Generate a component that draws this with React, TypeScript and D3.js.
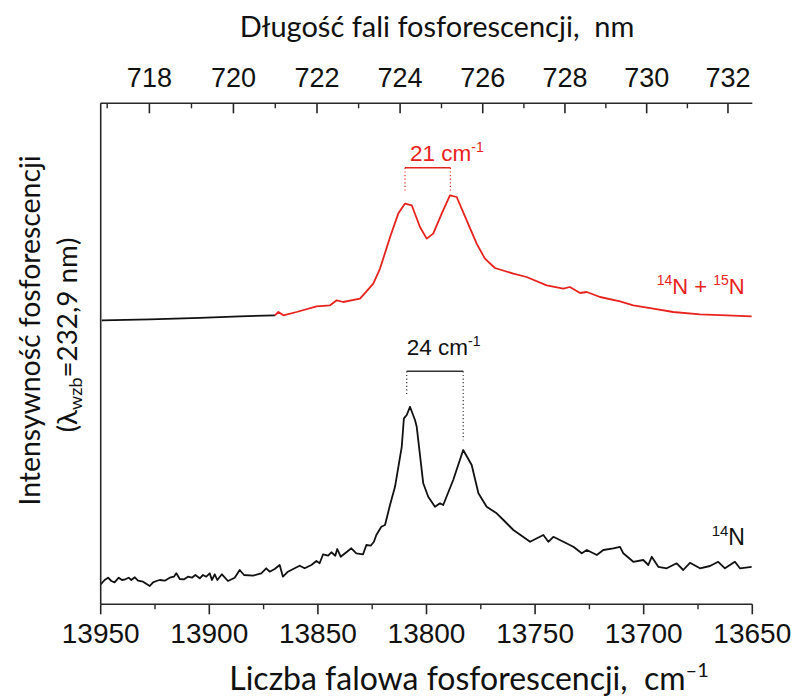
import React from "react";
import * as d3 from "d3";

// ---------- data ----------
const bottomTicks = [13950, 13900, 13850, 13800, 13750, 13700, 13650];
const bottomMinor = [13925, 13875, 13825, 13775, 13725, 13675];
const topTicks = [718, 720, 722, 724, 726, 728, 730, 732];
const topMinor = [717, 719, 721, 723, 725, 727, 729, 731];

// 14N spectrum (lower, black)
const wnN14 = [13950.0, 13948.2, 13946.6, 13945.1, 13943.6, 13941.7, 13940.2, 13938.7, 13937.1, 13935.9, 13934.3, 13932.8, 13930.5, 13927.4, 13925.9, 13924.4, 13922.8, 13920.5, 13918.2, 13916.3, 13915.2, 13913.6, 13911.6, 13909.8, 13908.0, 13906.4, 13904.4, 13902.9, 13901.4, 13899.8, 13898.8, 13897.5, 13896.3, 13894.2, 13891.4, 13888.3, 13886.0, 13884.0, 13879.9, 13876.1, 13873.8, 13872.2, 13869.9, 13867.6, 13866.1, 13863.8, 13860.7, 13858.4, 13856.1, 13853.0, 13850.7, 13849.2, 13847.6, 13845.3, 13843.8, 13842.0, 13841.1, 13839.5, 13836.9, 13834.6, 13832.3, 13829.2, 13827.7, 13825.7, 13824.2, 13823.1, 13820.8, 13819.1, 13816.8, 13814.5, 13811.4, 13810.4, 13809.1, 13807.6, 13805.3, 13804.5, 13801.5, 13799.2, 13796.1, 13793.8, 13792.3, 13787.7, 13783.1, 13779.2, 13776.1, 13772.3, 13767.7, 13764.6, 13760.0, 13752.3, 13746.2, 13743.9, 13741.6, 13737.0, 13732.4, 13728.5, 13726.2, 13721.6, 13718.6, 13714.0, 13710.9, 13709.4, 13704.8, 13700.2, 13697.9, 13696.3, 13693.3, 13689.4, 13684.8, 13681.8, 13678.7, 13674.1, 13669.5, 13665.7, 13662.6, 13658.0, 13655.7, 13650.3];
const intN14 = [4.0, 4.86, 5.32, 4.66, 4.4, 5.32, 4.86, 5.0, 5.32, 4.86, 5.4, 4.72, 4.52, 3.66, 4.4, 4.66, 4.86, 4.72, 5.32, 5.52, 6.2, 5.06, 5.0, 5.52, 5.32, 5.86, 5.2, 5.86, 5.52, 6.2, 4.86, 6.0, 4.86, 6.0, 4.66, 5.32, 6.86, 5.86, 5.72, 6.2, 7.2, 6.52, 7.06, 7.86, 5.52, 6.52, 7.2, 7.72, 7.2, 7.86, 8.66, 8.2, 10.0, 9.72, 10.4, 9.72, 11.06, 9.52, 10.4, 11.2, 10.2, 10.0, 11.86, 11.72, 12.52, 13.86, 15.52, 15.86, 19.86, 23.5, 31.5, 37.2, 37.86, 39.5, 36.86, 35.5, 24.2, 21.5, 19.5, 20.2, 19.86, 24.86, 30.86, 27.86, 22.2, 19.5, 18.2, 16.86, 14.86, 12.5, 13.86, 12.5, 13.5, 12.5, 11.5, 10.2, 10.86, 9.86, 10.86, 11.2, 11.5, 10.2, 8.5, 8.86, 7.86, 9.5, 7.5, 7.2, 8.2, 6.86, 8.3, 7.2, 7.66, 8.5, 7.2, 8.5, 7.2, 7.5];

// 14N + 15N spectrum (upper): black baseline part, then red part
const wnMixBase = [13949.5, 13927.3, 13904.3, 13885.9, 13869.8];
const intMixBase = [56.8, 57.0, 57.3, 57.6, 57.8];
const wnMix = [13869.8, 13868.2, 13865.9, 13859.8, 13850.6, 13844.4, 13841.3, 13838.3, 13830.6, 13824.5, 13821.4, 13816.8, 13813.0, 13809.9, 13806.8, 13803.0, 13799.9, 13796.9, 13793.0, 13789.2, 13786.1, 13781.5, 13776.9, 13773.1, 13768.5, 13760.0, 13753.9, 13744.7, 13737.0, 13734.0, 13729.3, 13726.2, 13720.1, 13710.9, 13704.8, 13695.6, 13686.4, 13674.1, 13661.8, 13650.3];
const intMix = [57.8, 58.46, 57.8, 58.46, 59.6, 59.8, 60.8, 60.46, 61.14, 64.14, 67.14, 73.4, 78.14, 80.14, 79.8, 75.46, 73.14, 74.14, 78.14, 81.8, 81.46, 76.8, 72.14, 69.14, 67.26, 66.14, 65.46, 63.8, 63.14, 63.46, 62.26, 62.46, 61.46, 60.6, 59.8, 59.14, 58.46, 58.0, 57.8, 57.6];

// peak-separation markers
const redPeaks = [13809.9, 13789.0];
const blackPeaks = [13809.1, 13783.1];

const RED = "#e8221c";
const AX = "#262626";
const ARIAL = "'Liberation Sans', Arial, sans-serif";
const CAL = "Lato, 'Open Sans', sans-serif";

export default function App() {
  const W = 794, H = 698;
  const x = d3.scaleLinear().domain([13950, 13650]).range([100.7, 752.3]);
  const y = d3.scaleLinear().domain([0, 100]).range([604.3, 104.3]);
  const xTop = (nm: number) => x(1e7 / nm);
  const line = d3
    .line<[number, number]>()
    .x((d) => x(d[0]))
    .y((d) => y(d[1]));
  const zip = (a: number[], b: number[]) => a.map((v, i) => [v, b[i]] as [number, number]);

  const yTop = 103.3;
  const yBot = 604.3;

  return (
    <svg width={W} height={H} style={{ position: "absolute", left: 0, top: 0, background: "#fff" }}>
      {/* curves */}
      <path d={line(zip(wnN14, intN14)) || ""} fill="none" stroke="#111" strokeWidth={1.8} strokeLinejoin="round" />
      <path d={line(zip(wnMixBase, intMixBase)) || ""} fill="none" stroke="#111" strokeWidth={1.8} />
      <path d={line(zip(wnMix, intMix)) || ""} fill="none" stroke={RED} strokeWidth={1.8} strokeLinejoin="round" />

      {/* axes */}
      <line x1={x(13950)} x2={x(13650)} y1={yBot} y2={yBot} stroke={AX} strokeWidth={1.6} />
      <line x1={x(13950)} x2={x(13650)} y1={yTop} y2={yTop} stroke={AX} strokeWidth={1.6} />
      <line x1={x(13950)} x2={x(13950)} y1={yTop} y2={yBot} stroke={AX} strokeWidth={1.6} />
      {bottomTicks.map((t) => (
        <g key={"b" + t}>
          <line x1={x(t)} x2={x(t)} y1={yBot} y2={yBot + 10} stroke={AX} strokeWidth={1.6} />
          <text x={x(t)} y={643.3} textAnchor="middle" fontFamily={ARIAL} fontSize={28} fill="#111">
            {t}
          </text>
        </g>
      ))}
      {bottomMinor.map((t) => (
        <line key={"bm" + t} x1={x(t)} x2={x(t)} y1={yBot} y2={yBot + 5} stroke={AX} strokeWidth={1.4} />
      ))}
      {topTicks.map((t) => (
        <g key={"t" + t}>
          <line x1={xTop(t)} x2={xTop(t)} y1={yTop} y2={yTop + 10} stroke={AX} strokeWidth={1.6} />
          <text x={xTop(t)} y={87.3} textAnchor="middle" fontFamily={ARIAL} fontSize={27} fill="#111">
            {t}
          </text>
        </g>
      ))}
      {topMinor.map((t) => (
        <line key={"tm" + t} x1={xTop(t)} x2={xTop(t)} y1={yTop} y2={yTop + 5} stroke={AX} strokeWidth={1.4} />
      ))}

      {/* axis titles */}
      <text x={437} y={37} textAnchor="middle" fontFamily={CAL} fontSize={29} fill="#111" style={{ whiteSpace: "pre" }}>
        {"Długość fali fosforescencji,  nm"}
      </text>
      <text x={469} y={690} textAnchor="middle" fontFamily={CAL} fontSize={32} fill="#111" style={{ whiteSpace: "pre" }}>
        {"Liczba falowa fosforescencji,  cm"}
        <tspan dy={-13} fontSize={20}>{"–1"}</tspan>
      </text>
      <g transform="translate(39.5,330.5) rotate(-90)">
        <text x={0} y={0} textAnchor="middle" fontFamily={CAL} fontSize={28.4} fill="#111">
          Intensywność fosforescencji
        </text>
      </g>
      <g transform="translate(76.5,335) rotate(-90)">
        <text x={0} y={0} textAnchor="middle" fontFamily={CAL} fontSize={27.8} fill="#111">
          {"(λ"}
          <tspan dy={5} fontSize={18}>wzb</tspan>
          <tspan dy={-5}>{"=232,9 nm)"}</tspan>
        </text>
      </g>

      {/* red bracket */}
      <line x1={x(redPeaks[0])} x2={x(redPeaks[1])} y1={y(87.3)} y2={y(87.3)} stroke={RED} strokeWidth={1.4} />
      {redPeaks.map((p) => (
        <line key={"rp" + p} x1={x(p)} x2={x(p)} y1={y(87.3)} y2={y(82.5)} stroke={RED} strokeWidth={1.2} strokeDasharray="1.2,2.4" />
      ))}
      <text x={x(13807.6)} y={y(88.7)} fontFamily={ARIAL} fontSize={22.5} fill={RED}>
        21 cm<tspan dy={-9} fontSize={14}>-1</tspan>
      </text>

      {/* black bracket */}
      <line x1={x(blackPeaks[0])} x2={x(blackPeaks[1])} y1={y(46.6)} y2={y(46.6)} stroke="#333" strokeWidth={1.4} />
      <line x1={x(blackPeaks[0])} x2={x(blackPeaks[0])} y1={y(46.6)} y2={y(41.8)} stroke="#333" strokeWidth={1.2} strokeDasharray="1.2,2.4" />
      <line x1={x(blackPeaks[1])} x2={x(blackPeaks[1])} y1={y(46.6)} y2={y(32.8)} stroke="#333" strokeWidth={1.2} strokeDasharray="1.2,2.4" />
      <text x={x(13809.1)} y={y(49.8)} fontFamily={ARIAL} fontSize={22.5} fill="#111">
        24 cm<tspan dy={-9} fontSize={14}>-1</tspan>
      </text>

      {/* series labels */}
      <text x={x(13668.7)} y={y(11.8)} fontFamily={ARIAL} fontSize={23} fill="#111">
        <tspan dy={-9} fontSize={15}>14</tspan>
        <tspan dy={9}>N</tspan>
      </text>
      <text x={x(13694)} y={y(62.1)} fontFamily={ARIAL} fontSize={22} fill={RED} style={{ whiteSpace: "pre" }}>
        <tspan dy={-9} fontSize={14}>14</tspan>
        <tspan dy={9}>{"N + "}</tspan>
        <tspan dy={-9} fontSize={14}>15</tspan>
        <tspan dy={9}>N</tspan>
      </text>
    </svg>
  );
}
